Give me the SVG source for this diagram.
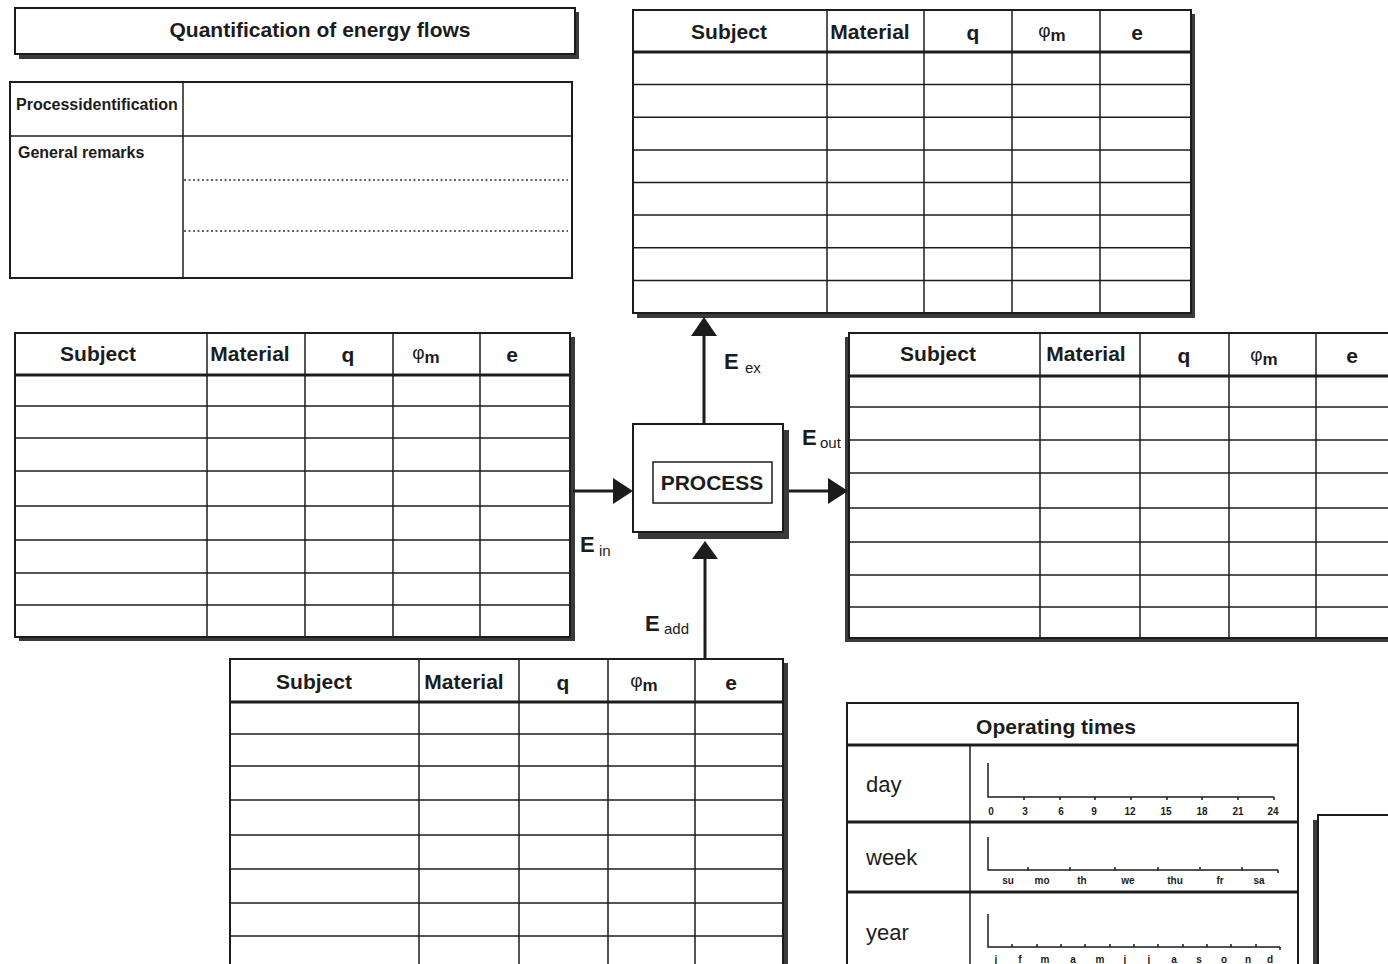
<svg xmlns="http://www.w3.org/2000/svg" width="1388" height="964" viewBox="0 0 1388 964">
<style>
.bd{fill:#fff;stroke:#1c1c1c;stroke-width:2}
.ln{fill:none;stroke:#1c1c1c;stroke-width:1.5}
.hd{fill:none;stroke:#1c1c1c;stroke-width:3}
.dt{fill:none;stroke:#333;stroke-width:1.5;stroke-dasharray:2 2.5}
.sh{fill:#3a3a3a}
.t{font-family:"Liberation Sans",Arial,Helvetica,sans-serif;fill:#1c1c1c}
.h{font-size:21px;font-weight:bold;text-anchor:middle}
.phi{font-size:19px;text-anchor:middle}
.sub{font-size:17px;font-weight:bold}
.lab{font-size:16px;font-weight:bold}
.big{font-size:22px}
.ax{font-size:10px;font-weight:bold;text-anchor:middle}
.E{font-size:22px;font-weight:bold}
.es{font-size:15px}
.ar{fill:#1c1c1c}
</style>
<rect x="0" y="0" width="1388" height="964" fill="#fff"/>

<g id="title">
<rect class="sh" x="19" y="12" width="560" height="47"/>
<rect class="bd" x="15" y="8" width="560" height="46"/>
<text class="t" x="320" y="37" font-size="21" font-weight="bold" text-anchor="middle">Quantification of energy flows</text>
</g>

<g id="identification">
<rect class="bd" x="10" y="82" width="562" height="196"/>
<line class="ln" x1="183" y1="82" x2="183" y2="278"/>
<line class="ln" x1="10" y1="136" x2="572" y2="136"/>
<line class="dt" x1="184" y1="180" x2="568" y2="180"/>
<line class="dt" x1="184" y1="231" x2="568" y2="231"/>
<text class="t lab" x="16" y="110">Processidentification</text>
<text class="t lab" x="18" y="158">General remarks</text>
</g>

<g id="table-ex">
<rect class="sh" x="637" y="14" width="558" height="304"/>
<rect class="bd" x="633" y="10" width="558" height="303"/>
<line class="hd" x1="633" y1="52" x2="1191" y2="52"/>
<g class="ln">
<line x1="827" y1="10" x2="827" y2="313"/><line x1="924" y1="10" x2="924" y2="313"/><line x1="1012" y1="10" x2="1012" y2="313"/><line x1="1100" y1="10" x2="1100" y2="313"/>
<line x1="633" y1="84.6" x2="1191" y2="84.6"/><line x1="633" y1="117.2" x2="1191" y2="117.2"/><line x1="633" y1="149.9" x2="1191" y2="149.9"/><line x1="633" y1="182.5" x2="1191" y2="182.5"/><line x1="633" y1="215.1" x2="1191" y2="215.1"/><line x1="633" y1="247.7" x2="1191" y2="247.7"/><line x1="633" y1="280.4" x2="1191" y2="280.4"/>
</g>
<text class="t h" x="729" y="39">Subject</text>
<text class="t h" x="870" y="39">Material</text>
<text class="t h" x="973" y="40">q</text>
<text class="t phi" x="1052" y="37">φ<tspan class="sub" dy="4">m</tspan></text>
<text class="t h" x="1137" y="40">e</text>
</g>

<g id="table-in">
<rect class="sh" x="19" y="337" width="556" height="304"/>
<rect class="bd" x="15" y="333" width="555" height="304"/>
<line class="hd" x1="15" y1="375" x2="570" y2="375"/>
<g class="ln">
<line x1="207" y1="333" x2="207" y2="637"/><line x1="305" y1="333" x2="305" y2="637"/><line x1="393" y1="333" x2="393" y2="637"/><line x1="480" y1="333" x2="480" y2="637"/>
<line x1="15" y1="406" x2="570" y2="406"/><line x1="15" y1="438" x2="570" y2="438"/><line x1="15" y1="471" x2="570" y2="471"/><line x1="15" y1="506" x2="570" y2="506"/><line x1="15" y1="540" x2="570" y2="540"/><line x1="15" y1="573" x2="570" y2="573"/><line x1="15" y1="605" x2="570" y2="605"/>
</g>
<text class="t h" x="98" y="361">Subject</text>
<text class="t h" x="250" y="361">Material</text>
<text class="t h" x="348" y="362">q</text>
<text class="t phi" x="426" y="359">φ<tspan class="sub" dy="4">m</tspan></text>
<text class="t h" x="512" y="362">e</text>
</g>

<g id="table-out">
<rect class="sh" x="845" y="337" width="560" height="305"/>
<rect class="bd" x="849" y="333" width="560" height="305"/>
<line class="hd" x1="849" y1="376" x2="1388" y2="376"/>
<g class="ln">
<line x1="1040" y1="333" x2="1040" y2="638"/><line x1="1140" y1="333" x2="1140" y2="638"/><line x1="1229" y1="333" x2="1229" y2="638"/><line x1="1316" y1="333" x2="1316" y2="638"/>
<line x1="849" y1="407" x2="1388" y2="407"/><line x1="849" y1="440" x2="1388" y2="440"/><line x1="849" y1="473" x2="1388" y2="473"/><line x1="849" y1="508" x2="1388" y2="508"/><line x1="849" y1="542" x2="1388" y2="542"/><line x1="849" y1="575" x2="1388" y2="575"/><line x1="849" y1="607" x2="1388" y2="607"/>
</g>
<text class="t h" x="938" y="361">Subject</text>
<text class="t h" x="1086" y="361">Material</text>
<text class="t h" x="1184" y="363">q</text>
<text class="t phi" x="1264" y="361">φ<tspan class="sub" dy="4">m</tspan></text>
<text class="t h" x="1352" y="363">e</text>
</g>

<g id="table-add">
<rect class="sh" x="234" y="663" width="554" height="310"/>
<rect class="bd" x="230" y="659" width="553" height="310"/>
<line class="hd" x1="230" y1="702" x2="783" y2="702"/>
<g class="ln">
<line x1="419" y1="659" x2="419" y2="969"/><line x1="519" y1="659" x2="519" y2="969"/><line x1="608" y1="659" x2="608" y2="969"/><line x1="695" y1="659" x2="695" y2="969"/>
<line x1="230" y1="734" x2="783" y2="734"/><line x1="230" y1="766" x2="783" y2="766"/><line x1="230" y1="800" x2="783" y2="800"/><line x1="230" y1="835" x2="783" y2="835"/><line x1="230" y1="869" x2="783" y2="869"/><line x1="230" y1="903" x2="783" y2="903"/><line x1="230" y1="936" x2="783" y2="936"/>
</g>
<text class="t h" x="314" y="689">Subject</text>
<text class="t h" x="464" y="689">Material</text>
<text class="t h" x="563" y="690">q</text>
<text class="t phi" x="644" y="687">φ<tspan class="sub" dy="4">m</tspan></text>
<text class="t h" x="731" y="690">e</text>
</g>

<g id="process">
<rect class="sh" x="638" y="430" width="151" height="109"/>
<rect class="bd" x="633" y="424" width="150" height="108"/>
<rect x="653" y="462" width="119" height="41" fill="#fff" stroke="#1c1c1c" stroke-width="1.5"/>
<text class="t" x="712" y="490" font-size="21" font-weight="bold" text-anchor="middle">PROCESS</text>
</g>

<g id="connectors">
<line x1="704" y1="424" x2="704" y2="332" stroke="#1c1c1c" stroke-width="3"/>
<polygon class="ar" points="704,317 717,336 691,336"/>
<line x1="573" y1="491" x2="615" y2="491" stroke="#1c1c1c" stroke-width="3"/>
<polygon class="ar" points="633,491 613,478 613,504"/>
<line x1="789" y1="491" x2="830" y2="491" stroke="#1c1c1c" stroke-width="3"/>
<polygon class="ar" points="848,491 828,478 828,504"/>
<line x1="705" y1="659" x2="705" y2="556" stroke="#1c1c1c" stroke-width="3"/>
<polygon class="ar" points="705,541 718,559 692,559"/>
<text class="t E" x="724" y="369">E</text><text class="t es" x="745" y="373">ex</text>
<text class="t E" x="802" y="445">E</text><text class="t es" x="820" y="448">out</text>
<text class="t E" x="580" y="552">E</text><text class="t es" x="599" y="556">in</text>
<text class="t E" x="645" y="631">E</text><text class="t es" x="664" y="634">add</text>
</g>

<g id="operating-times">
<rect class="bd" x="847" y="703" width="451" height="270"/>
<line class="hd" x1="847" y1="745" x2="1298" y2="745"/>
<line class="ln" x1="970" y1="745" x2="970" y2="973"/>
<line class="hd" x1="847" y1="822" x2="1298" y2="822"/>
<line class="hd" x1="847" y1="892" x2="1298" y2="892"/>
<text class="t" x="1056" y="734" font-size="21" font-weight="bold" text-anchor="middle">Operating times</text>
<text class="t big" x="866" y="792">day</text>
<text class="t big" x="866" y="865">week</text>
<text class="t big" x="866" y="940">year</text>
<g class="ln">
<polyline points="988,763 988,797 1274,797"/>
<path d="M1024,797v3M1060,797v3M1095,797v3M1131,797v3M1167,797v3M1202,797v3M1238,797v3M1274,797v3"/>
<polyline points="988,837 988,870 1278,870"/>
<path d="M1028,870v-3M1070,870v-3M1115,870v-3M1158,870v-3M1200,870v-3M1242,870v-3M1278,870v3"/>
<polyline points="988,914 988,947 1280,947"/>
<path d="M1012,947v-3M1037,947v-3M1061,947v-3M1085,947v-3M1110,947v-3M1134,947v-3M1158,947v-3M1183,947v-3M1207,947v-3M1231,947v-3M1256,947v-3M1280,947v3"/>
</g>
<g class="t ax">
<text x="991" y="815">0</text><text x="1025" y="815">3</text><text x="1061" y="815">6</text><text x="1094" y="815">9</text><text x="1130" y="815">12</text><text x="1166" y="815">15</text><text x="1202" y="815">18</text><text x="1238" y="815">21</text><text x="1273" y="815">24</text>
<text x="1008" y="884">su</text><text x="1042" y="884">mo</text><text x="1082" y="884">th</text><text x="1128" y="884">we</text><text x="1175" y="884">thu</text><text x="1220" y="884">fr</text><text x="1259" y="884">sa</text>
<text x="996" y="963">j</text><text x="1020" y="963">f</text><text x="1045" y="963">m</text><text x="1073" y="963">a</text><text x="1100" y="963">m</text><text x="1125" y="963">j</text><text x="1149" y="963">j</text><text x="1174" y="963">a</text><text x="1199" y="963">s</text><text x="1224" y="963">o</text><text x="1248" y="963">n</text><text x="1270" y="963">d</text>
</g>
</g>

<g id="partial-box">
<rect class="sh" x="1313" y="820" width="6" height="150"/>
<rect class="bd" x="1318" y="815" width="80" height="160"/>
</g>
</svg>
